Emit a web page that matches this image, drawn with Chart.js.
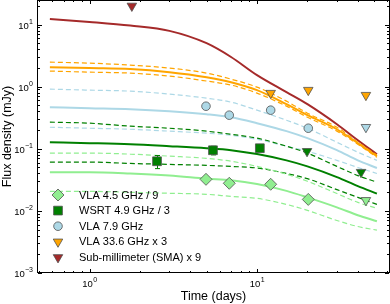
<!DOCTYPE html>
<html>
<head>
<meta charset="utf-8">
<script src="https://cdn.jsdelivr.net/npm/chart.js@4.4.1/dist/chart.umd.min.js"></script>
<style>
  html, body { margin: 0; padding: 0; background: #fff; }
</style>
</head>
<body>
<canvas id="myChart" width="390" height="304"></canvas>
<script>
// epochs where the model curves were read (days)
const modelDays = [0.58, 1, 1.75, 3, 5, 7, 10, 15, 20, 30, 40, 52];

// model curves (mJy) - solid best fit, Hi/Lo the dashed envelopes
const smaModel    = [12.3, 11.0, 9.6, 7.9, 5.0, 3.0, 1.53, 0.815, 0.522, 0.248, 0.137, 0.0815];
const vla336Model = [2.06, 1.99, 1.92, 1.71, 1.42, 1.18, 0.878, 0.522, 0.347, 0.206, 0.123, 0.076];
const vla336Hi    = [2.48, 2.39, 2.22, 1.99, 1.65, 1.32, 0.981, 0.584, 0.374, 0.222, 0.127, 0.079];
const vla336Lo    = [1.78, 1.71, 1.65, 1.48, 1.23, 1.06, 0.786, 0.485, 0.322, 0.192, 0.118, 0.073];
const vla79Model  = [0.467, 0.450, 0.434, 0.403, 0.360, 0.322, 0.258, 0.192, 0.148, 0.095, 0.065, 0.049];
const vla79Hi     = [0.911, 0.878, 0.846, 0.757, 0.652, 0.562, 0.418, 0.288, 0.214, 0.127, 0.088, 0.065];
const vla79Lo     = [0.222, 0.214, 0.206, 0.192, 0.178, 0.165, 0.142, 0.110, 0.091, 0.065, 0.050, 0.040];
const wsrtModel   = [0.127, 0.123, 0.118, 0.110, 0.102, 0.095, 0.082, 0.065, 0.052, 0.035, 0.025, 0.019];
const wsrtHi      = [0.268, 0.258, 0.231, 0.214, 0.192, 0.171, 0.148, 0.110, 0.085, 0.052, 0.037, 0.029];
const wsrtLo      = [0.061, 0.061, 0.058, 0.056, 0.054, 0.052, 0.049, 0.040, 0.033, 0.022, 0.0165, 0.0127];
const vla45Model  = [0.042, 0.042, 0.040, 0.037, 0.033, 0.031, 0.027, 0.021, 0.0165, 0.0114, 0.0085, 0.0068];
const vla45Hi     = [0.085, 0.085, 0.082, 0.076, 0.070, 0.063, 0.052, 0.039, 0.030, 0.019, 0.0137, 0.0110];
const vla45Lo     = [0.0206, 0.0206, 0.0199, 0.0192, 0.0185, 0.0171, 0.0159, 0.0127, 0.0102, 0.0070, 0.0056, 0.0049];

// detections
const vlaDays   = [4.96, 6.83, 12.07, 20.24];
const vla45Flux = [0.0322, 0.0278, 0.0268, 0.0153];
const vla79Flux = [0.484, 0.347, 0.418, 0.214];
const wsrtDays  = [2.53, 5.46, 10.4];
const wsrtFlux  = [0.0629, 0.0946, 0.102];
const wsrtErr   = [0.015, 0.015, 0.012];

// upper limits (down triangles)
const limDays      = [44.7];
const vla45Lim     = [0.0148];
const vla79Lim     = [0.222];
const wsrtLimDays  = [19.9, 41.8];
const wsrtLim      = [0.091, 0.042];
const vla336Days   = [12.07, 20.24, 44.7];
const vla336Lim    = [0.786, 0.878, 0.729];
const smaDays      = [1.79];
const smaLim       = [19.9];

// labelled decades on each axis
const xDecades = [0, 1];
const yDecades = [-3, -2, -1, 0, 1];

const legendLabels = ['VLA 4.5 GHz / 9', 'WSRT 4.9 GHz / 3', 'VLA 7.9 GHz', 'VLA 33.6 GHz x 3', 'Sub-millimeter (SMA) x 9'];

const C_LG = '#90ee90', C_DG = '#008000', C_LB = '#add8e6', C_OR = '#ffa500', C_RD = '#a52a2a';
const EDGE = '#505050';
const FONT = '"Liberation Sans", Arial, sans-serif';

function pts(xs, ys) { return xs.map((x, i) => ({x: x, y: ys[i]})); }

function line(data, color, dashed) {
  return {
    data: pts(modelDays, data),
    borderColor: color,
    borderWidth: dashed ? 1.2 : 2,
    borderDash: dashed ? [5, 3] : [],
    pointRadius: 0,
    fill: false,
    cubicInterpolationMode: 'monotone',
    order: 2
  };
}

function marks(xs, ys, color, style, radius, legendIdx, rot) {
  return {
    data: pts(xs, ys),
    showLine: false,
    pointStyle: style,
    pointRadius: radius,
    pointRotation: rot || 0,
    pointBackgroundColor: color,
    pointBorderColor: EDGE,
    pointBorderWidth: 0.8,
    legendIdx: legendIdx,
    order: 0
  };
}

const datasets = [
  line(vla45Hi, C_LG, true), line(vla45Lo, C_LG, true), line(vla45Model, C_LG, false),
  line(wsrtHi, C_DG, true), line(wsrtLo, C_DG, true), line(wsrtModel, C_DG, false),
  line(vla79Hi, C_LB, true), line(vla79Lo, C_LB, true), line(vla79Model, C_LB, false),
  line(vla336Hi, C_OR, true), line(vla336Lo, C_OR, true), line(vla336Model, C_OR, false),
  line(smaModel, C_RD, false),
  marks(vlaDays, vla45Flux, C_LG, 'rectRot', 6, 0),
  marks(limDays, vla45Lim, C_LG, 'triangle', 5.5, -1, 180),
  Object.assign(marks(wsrtDays, wsrtFlux, C_DG, 'rect', 6.2, 1), {errors: wsrtErr}),
  marks(wsrtLimDays, wsrtLim, C_DG, 'triangle', 5.5, -1, 180),
  marks(vlaDays, vla79Flux, C_LB, 'circle', 4.3, 2),
  marks(limDays, vla79Lim, C_LB, 'triangle', 5.5, -1, 180),
  marks(vla336Days, vla336Lim, C_OR, 'triangle', 5.5, 3, 180),
  marks(smaDays, smaLim, C_RD, 'triangle', 5.5, 4, 180)
];

function logTicks(min, max) {
  const out = [];
  for (let e = Math.floor(Math.log10(min)); e <= Math.ceil(Math.log10(max)); e++) {
    for (let m = 1; m < 10; m++) {
      const v = m * Math.pow(10, e);
      if (v >= min && v <= max) out.push({v: v, major: m === 1});
    }
  }
  return out;
}

// keep the plot box where the reference has it
function fixBox(s, size) {
  if (s.isHorizontal()) s.height = size; else s.width = size;
  s.paddingTop = 0; s.paddingBottom = 0; s.paddingLeft = 0; s.paddingRight = 0;
}

// error bars, drawn just under their markers
const errorBars = {
  id: 'errorBars',
  beforeDatasetDraw(chart, args) {
    const ds = chart.data.datasets[args.index];
    if (!ds.errors) return;
    const ctx = chart.ctx, xs = chart.scales.x, ys = chart.scales.y;
    ctx.save();
    ctx.strokeStyle = C_DG;
    ctx.lineWidth = 1;
    ds.data.forEach((p, i) => {
      const px = Math.round(xs.getPixelForValue(p.x)) + 0.5;
      const y1 = ys.getPixelForValue(p.y + ds.errors[i]);
      const y2 = ys.getPixelForValue(p.y - ds.errors[i]);
      ctx.beginPath();
      ctx.moveTo(px, y1); ctx.lineTo(px, y2);
      ctx.moveTo(px - 2.5, y1); ctx.lineTo(px + 2.5, y1);
      ctx.moveTo(px - 2.5, y2); ctx.lineTo(px + 2.5, y2);
      ctx.stroke();
    });
    ctx.restore();
  }
};

// frame with inward ticks on all four sides, and 10^n labels
const frame = {
  id: 'frame',
  afterDatasetsDraw(chart) {
    const ctx = chart.ctx, a = chart.chartArea, xs = chart.scales.x, ys = chart.scales.y;
    ctx.save();
    ctx.strokeStyle = '#000';
    ctx.lineWidth = 1;
    ctx.beginPath();
    logTicks(xs.min, xs.max).forEach(t => {
      const px = Math.round(xs.getPixelForValue(t.v)) + 0.5, len = t.major ? 4 : 2;
      ctx.moveTo(px, a.bottom); ctx.lineTo(px, a.bottom - len);
      ctx.moveTo(px, a.top); ctx.lineTo(px, a.top + len);
    });
    logTicks(ys.min, ys.max).forEach(t => {
      const py = Math.round(ys.getPixelForValue(t.v)) + 0.5, len = t.major ? 4 : 2;
      ctx.moveTo(a.left, py); ctx.lineTo(a.left + len, py);
      ctx.moveTo(a.right, py); ctx.lineTo(a.right - len, py);
    });
    ctx.stroke();
    ctx.strokeRect(a.left - 0.5, a.top + 0.5, a.right - a.left + 1, a.bottom - a.top - 1);

    // tick labels as 10 with a raised exponent
    ctx.fillStyle = '#000';
    ctx.textAlign = 'left';
    ctx.textBaseline = 'alphabetic';
    const baseFont = '9.5px ' + FONT, supFont = '7px ' + FONT;
    function widths(e) {
      ctx.font = baseFont; const w1 = ctx.measureText('10').width;
      ctx.font = supFont; const w2 = ctx.measureText(String(e).replace('-', '\u2212')).width;
      return [w1, w2];
    }
    function put(e, x0, yBase) {
      const w = widths(e);
      ctx.font = baseFont; ctx.fillText('10', x0, yBase);
      ctx.font = supFont; ctx.fillText(String(e).replace('-', '\u2212'), x0 + w[0] + 0.3, yBase - 5);
    }
    yDecades.forEach(e => {
      const py = ys.getPixelForValue(Math.pow(10, e));
      const w = widths(e);
      put(e, a.left - 5 - w[0] - w[1] - 0.3, py + 4);
    });
    xDecades.forEach(e => {
      const px = xs.getPixelForValue(Math.pow(10, e));
      const w = widths(e);
      put(e, px - (w[0] + w[1]) / 2, a.bottom + 14);
    });
    ctx.restore();
  }
};

// frameless legend at lower left
const legendBox = {
  id: 'legendBox',
  afterDraw(chart) {
    const ctx = chart.ctx;
    ctx.save();
    chart.data.datasets.forEach(ds => {
      if (ds.legendIdx === undefined || ds.legendIdx < 0) return;
      const i = ds.legendIdx, x = 58, y = 195 + i * 15.6;
      ctx.fillStyle = ds.pointBackgroundColor;
      ctx.strokeStyle = ds.pointBorderColor;
      ctx.lineWidth = ds.pointBorderWidth;
      Chart.helpers.drawPoint(ctx, {pointStyle: ds.pointStyle, radius: ds.pointRadius, rotation: ds.pointRotation, borderWidth: ds.pointBorderWidth}, x, y);
      ctx.fillStyle = '#000';
      ctx.font = '11px ' + FONT;
      ctx.textBaseline = 'middle';
      ctx.textAlign = 'left';
      ctx.fillText(legendLabels[i], 79, y + 0.5);
    });
    ctx.restore();
  }
};

Chart.defaults.font.family = FONT;
Chart.defaults.color = '#000';

const ctx = document.getElementById('myChart').getContext('2d');
const myChart = new Chart(ctx, {
  type: 'line',
  data: { datasets: datasets },
  options: {
    responsive: false,
    animation: false,
    layout: { autoPadding: false, padding: { left: 0, right: 1, top: 0, bottom: 0 } },
    plugins: { legend: { display: false }, tooltip: { enabled: false } },
    scales: {
      x: {
        type: 'logarithmic',
        min: 0.4926,
        max: 61.4,
        grid: { display: false, drawTicks: false },
        border: { display: false },
        ticks: { display: false },
        title: { display: true, text: 'Time (days)', font: { size: 12.5 }, padding: 0 },
        afterFit: s => fixBox(s, 31)
      },
      y: {
        type: 'logarithmic',
        min: 0.001,
        max: 24.8,
        grid: { display: false, drawTicks: false },
        border: { display: false },
        ticks: { display: false },
        title: { display: true, text: 'Flux density (mJy)', font: { size: 12.5 }, padding: 0 },
        afterFit: s => fixBox(s, 38)
      }
    }
  },
  plugins: [errorBars, frame, legendBox]
});
</script>
</body>
</html>
